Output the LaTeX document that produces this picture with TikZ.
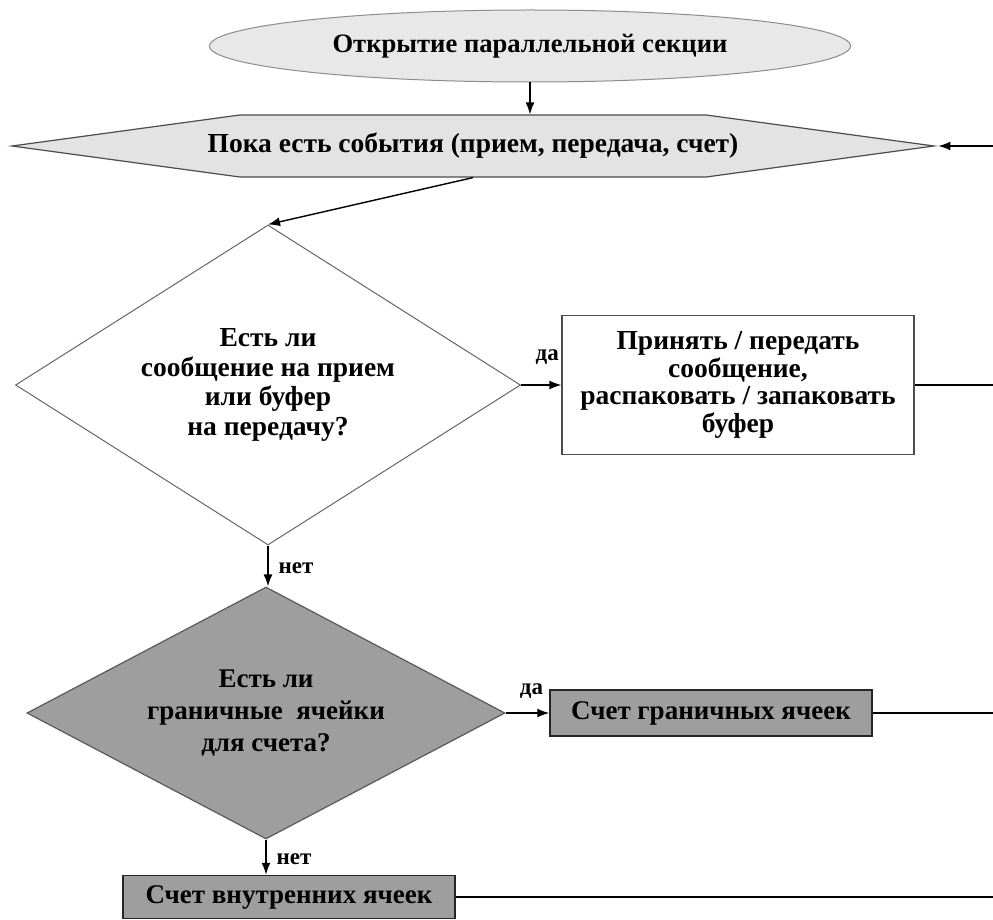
\documentclass[tikz,border=0pt]{standalone}
\usepackage{fontspec}
\setmainfont{Liberation Serif}
\usepackage{tikz}
\usetikzlibrary{shapes.geometric, shapes.symbols, positioning, arrows.meta}

\begin{document}
\begin{tikzpicture}[
    x=1pt, y=-1pt,
    every node/.style={font=\bfseries\fontsize{27.5}{29.5}\selectfont, align=center, inner sep=2pt},
    startbox/.style={ellipse, draw=black!45, fill=black!9, line width=1pt, minimum width=641pt, minimum height=72pt, font=\bfseries\fontsize{26.6}{29}\selectfont},
    loopbox/.style={signal, signal to=west and east, signal pointer angle=15.5, draw=black!70, fill=black!11, line width=1.2pt, minimum width=922pt, minimum height=62pt},
    question/.style={diamond, draw=black!60, fill=white, line width=1pt},
    darkquestion/.style={diamond, draw=black!65, fill=black!38, line width=1.2pt},
    action/.style={rectangle, draw=black!70, fill=white, line width=1.3pt},
    darkaction/.style={rectangle, draw=black!85, fill=black!38, line width=1.5pt},
    answer/.style={font=\bfseries\fontsize{23}{25}\selectfont, inner sep=0pt},
    flow/.style={draw, line width=1.4pt, -{Latex[length=12pt, width=9pt]}},
    link/.style={draw, line width=1.4pt}
]
\useasboundingbox (0,0) rectangle (993,920);

\node[startbox] (open) at (530,46) {Открытие параллельной секции};
\node[loopbox] (events) at (473,146) {\makebox[0pt]{Пока есть события (прием, передача, счет)}};
\node[question, aspect=1.58, minimum width=505pt, minimum height=320pt] (msg) at (268,385)
    {Есть ли\\сообщение на прием\\или буфер\\на передачу?};
\node[action, minimum width=352pt, minimum height=139pt, font=\bfseries\fontsize{27.5}{27.7}\selectfont] (exchange) at (738,385)
    {Принять / передать\\сообщение,\\распаковать / запаковать\\буфер};
\node[darkquestion, aspect=1.9, minimum width=478pt, minimum height=252pt, font=\bfseries\fontsize{27}{32}\selectfont] (border) at (266,713)
    {Есть ли\\граничные~~ячейки\\для счета?};
\node[darkaction, minimum width=322pt, minimum height=46pt, font=\bfseries\fontsize{27}{30}\selectfont] (bordercalc) at (711,713)
    {Счет граничных ячеек};
\node[darkaction, minimum width=332pt, minimum height=43pt, font=\bfseries\fontsize{27}{30}\selectfont] (innercalc) at (289,897)
    {Счет внутренних ячеек};

\coordinate (backin) at (993,146);
\coordinate (backa) at (993,385);
\coordinate (backb) at (993,713);
\coordinate (backc) at (993,897);

\path[flow] (open.south) -- (open.south |- events.north);
\path[flow] (backin) -- (events.east);
\path[flow] (events.south) -- (msg.north);
\path[flow] (msg.east) -- node[answer, above=20pt, xshift=6pt] {да} (exchange.west);
\path[flow] (msg.south) -- node[answer, right=10pt, yshift=-2pt] {нет} (msg.south |- border.north);
\path[flow] (border.east) -- node[answer, above=14pt, xshift=4pt] {да} (bordercalc.west);
\path[flow] (border.south) -- node[answer, right=10pt, yshift=-2pt] {нет} (border.south |- innercalc.north);
\path[link] (exchange.east) -- (backa);
\path[link] (bordercalc.east) -- (backb);
\path[link] (innercalc.east) -- (backc);
\end{tikzpicture}
\end{document}
